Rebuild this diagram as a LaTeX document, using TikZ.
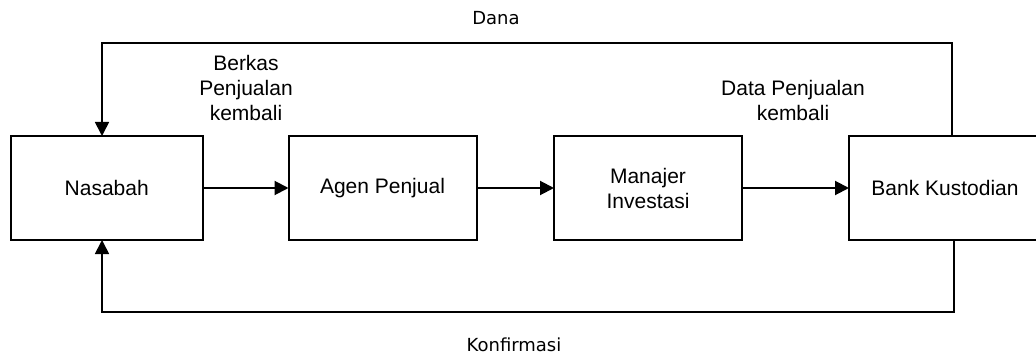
\documentclass[tikz,border=0pt]{standalone}
\usepackage{fontspec}
\setmainfont{Liberation Sans}
\newfontfamily\flowfont{DejaVu Sans}
\usetikzlibrary{positioning,calc,arrows.meta}

\begin{document}
\begin{tikzpicture}[x=1pt,y=-1pt,
		box/.style={draw,line width=2pt,outer sep=0pt,minimum width=188pt,minimum height=104pt,align=center,font=\fontsize{21}{25}\selectfont},
		flow/.style={line width=2pt,-{Triangle[length=14pt,width=14pt]}},
		loop/.style={line width=1.7pt,-{Triangle[length=14pt,width=14pt]}},
		note/.style={align=center,inner sep=0pt,font=\fontsize{21}{25}\selectfont},
		side/.style={inner sep=0pt,font=\flowfont\fontsize{18}{21}\selectfont}]
	\clip (0,0) rectangle (1036,358);
	\node[box,minimum width=191.5pt] (nasabah) at (106.75,188) {Nasabah};
	\node[box,right=86pt of nasabah] (agen) {Agen Penjual};
	\node[box,right=77.5pt of agen] (manajer) {Manajer\\Investasi};
	\node[box,minimum width=192pt,right=107pt of manajer] (bank) {Bank Kustodian};
	%
	\coordinate (danaL) at (102,43);
	\coordinate (danaR) at (952,43);
	\coordinate (konfL) at (102,312);
	\coordinate (konfR) at (954,312);
	\node[side] (dana) at (496,18.5) {Dana};
	\node[side] (konf) at (514,344.5) {Konfirmasi};
	\node[note,anchor=south] (berkas) at (246,121) {Berkas\\Penjualan\\kembali};
	\node[note,anchor=south] (data) at (793,121) {Data Penjualan\\kembali};
	%
	\draw[flow] (nasabah) -- (agen);
	\draw[flow] (agen) -- (manajer);
	\draw[flow] (manajer) -- (bank);
	\draw[loop] (bank.north -| danaR) |- (danaL) -- (nasabah.north -| danaL);
	\draw[loop] (bank.south -| konfR) |- (konfL) -- (nasabah.south -| konfL);
\end{tikzpicture}
\end{document}
